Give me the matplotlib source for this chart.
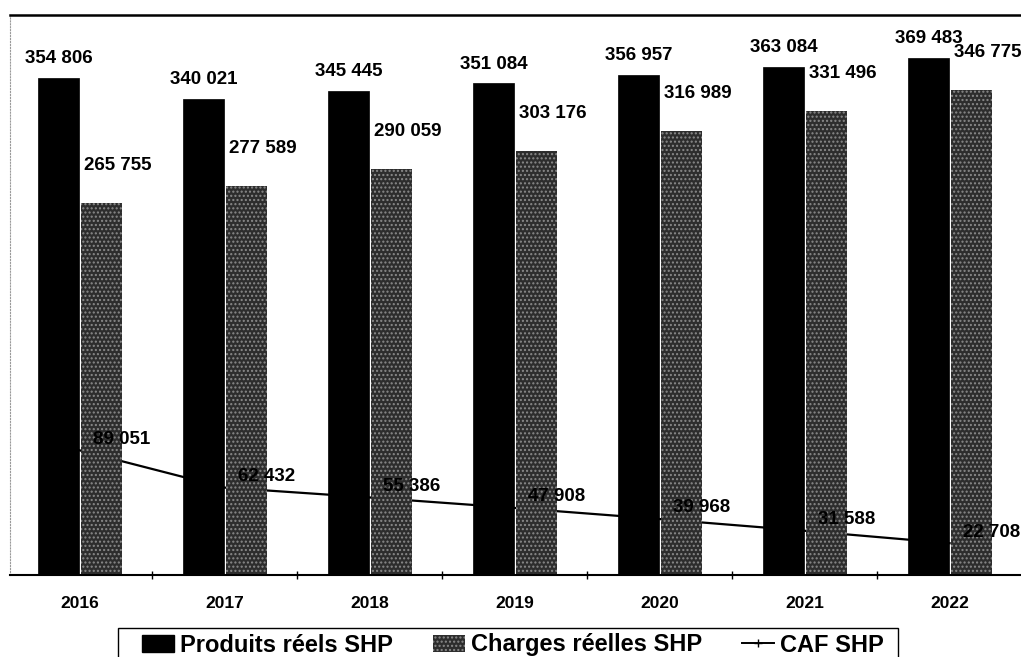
import matplotlib
matplotlib.use("Agg")
import matplotlib.pyplot as plt
from matplotlib.patches import Patch, Rectangle
from matplotlib.lines import Line2D
import numpy as np

plt.rcParams['font.family'] = ['Liberation Sans', 'DejaVu Sans']

# data
years = ['2016', '2017', '2018', '2019', '2020', '2021', '2022']
produits = [354806, 340021, 345445, 351084, 356957, 363084, 369483]
charges = [265755, 277589, 290059, 303176, 316989, 331496, 346775]
caf = [89051, 62432, 55386, 47908, 39968, 31588, 22708]


def fmt(v):
    return f"{v:,}".replace(",", " ")


W, H = 1021, 657
fig = plt.figure(figsize=(W / 100, H / 100), dpi=100)
ax = fig.add_axes([10 / W, 1 - 575 / H, 1 - 10 / W, (575 - 15) / H])

x = np.arange(len(years))
w = 0.28

# CAF line sits behind the bars
ax.plot(x, caf, color='black', lw=1.6, zorder=1)

ax.bar(x - 0.145, produits, width=w, color='black', edgecolor='black', lw=0.5, zorder=2)
ax.bar(x + 0.15, charges, width=w, color='#2d2d2d', edgecolor='#8a8a8a',
       hatch='....', lw=0, zorder=2)

for i in range(len(years)):
    ax.annotate(fmt(produits[i]), (x[i] - 0.145, produits[i]), xytext=(0, 14),
                textcoords='offset points', ha='center', va='center',
                fontsize=13.5, fontweight='bold', zorder=4)
    ax.annotate(fmt(charges[i]), (x[i] + 0.15, charges[i]), xytext=(12, 27),
                textcoords='offset points', ha='center', va='center',
                fontsize=13.5, fontweight='bold', zorder=4)
    ax.annotate(fmt(caf[i]), (x[i] + 0.29, caf[i]), xytext=(0, 8),
                textcoords='offset points', ha='center', va='center',
                fontsize=13.5, fontweight='bold', zorder=4)

ax.set_xlim(-0.48, -0.48 + (W - 10) / 145)
ax.set_ylim(0, 400000)

ax.set_xticks(x)
ax.set_xticklabels(years, fontsize=12.5, fontweight='bold')
ax.tick_params(axis='x', which='major', length=0, pad=15)
ax.set_xticks(x[:-1] + 0.5, minor=True)
ax.tick_params(axis='x', which='minor', length=6, direction='inout', width=1)
ax.set_yticks([])

ax.spines['right'].set_visible(False)
ax.spines['top'].set_linewidth(1.8)
ax.spines['bottom'].set_linewidth(1.5)
ax.spines['left'].set_color('#9a9a9a')
ax.spines['left'].set_linestyle(':')

# legend box, cut by the bottom edge as in the scan
fig.patches.append(Rectangle((118 / W, -0.05), (898 - 118) / W, 0.05 + 1 - 628 / H,
                             transform=fig.transFigure, fill=False,
                             edgecolor='black', lw=1.0))

handles = [
    Patch(facecolor='black', edgecolor='black'),
    Patch(facecolor='#2d2d2d', edgecolor='#8a8a8a', hatch='....', lw=0),
    Line2D([0], [0], color='black', lw=1.4, marker='+', ms=6),
]
labels = ['Produits réels SHP', 'Charges réelles SHP', 'CAF SHP']
fig.legend(handles, labels, loc='center left', ncol=3,
           bbox_to_anchor=(142 / W, 1 - 645 / H),
           prop={'size': 17, 'weight': 'bold'}, frameon=False,
           handlelength=1.35, handleheight=0.75, handletextpad=0.25,
           columnspacing=1.7, borderpad=0, borderaxespad=0)

fig.savefig('out.png', dpi=100)
